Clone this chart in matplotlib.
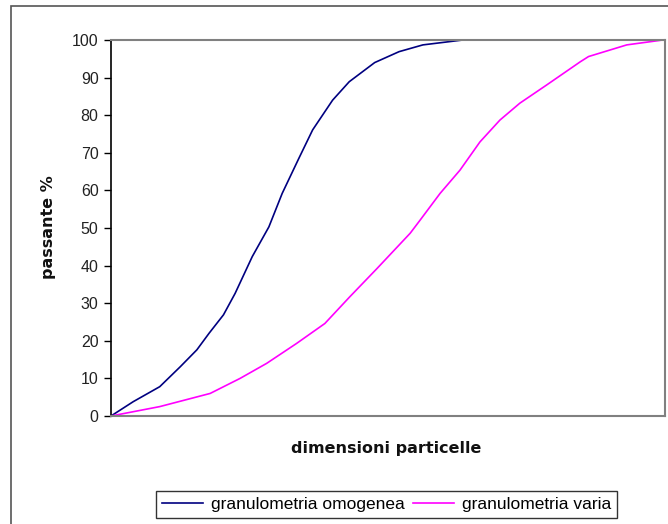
import matplotlib
matplotlib.use("Agg")
import matplotlib.pyplot as plt
from matplotlib.patches import Rectangle

plt.rcParams['font.family'] = ['Liberation Sans', 'DejaVu Sans']

# data (x in arbitrary units 0..100, no x tick labels in original)
x_omogenea = [0, 4, 8.8, 12.5, 15.5, 17.7, 20.3, 22.4, 25.5, 28.5, 30.9, 33.9, 36.4, 40, 43, 47.6, 52, 56.3, 63.5]
y_omogenea = [0, 3.8, 7.8, 13.1, 17.6, 22, 26.9, 32.6, 42.4, 50.3, 59.2, 68.5, 76.1, 84, 88.9, 94, 96.9, 98.7, 100]
x_varia = [0, 8.8, 17.9, 23.3, 28.1, 33.5, 38.6, 43.1, 48, 54, 55.8, 59.4, 63, 66.6, 70.2, 73.8, 78.6, 84.7, 86.2, 93.1, 99.6]
y_varia = [0, 2.5, 6, 10, 14, 19.3, 24.6, 31.7, 39.2, 48.6, 52.1, 59.2, 65.4, 72.9, 78.7, 83.2, 88, 94.2, 95.6, 98.7, 100]
yticks = list(range(0, 101, 10))
label_omogenea = "granulometria omogenea"
label_varia = "granulometria varia"

W, H = 668, 524
fig = plt.figure(figsize=(W / 100, H / 100), dpi=100)
fig.patch.set_facecolor('white')

# outer chart border (clipped at right/bottom)
fig.patches.append(Rectangle((11 / W, -0.05), 1.0, (H - 6) / H + 0.05, transform=fig.transFigure,
                             fill=False, edgecolor='#555555', linewidth=1.2))

ax = fig.add_axes([111 / W, (H - 416) / H, (665 - 111) / W, (416 - 40) / H])
ax.plot(x_omogenea, y_omogenea, color='#000080', linewidth=1.2, label=label_omogenea)
ax.plot(x_varia, y_varia, color='#FF00FF', linewidth=1.2, label=label_varia)

ax.set_xlim(0, 100)
ax.set_ylim(0, 100)
ax.set_yticks(yticks)
ax.set_xticks([])
ax.tick_params(axis='y', direction='out', length=5, width=1, color='black',
               labelsize=11.5, labelcolor='#222222', pad=4)
ax.spines['left'].set_color('black')
ax.spines['left'].set_linewidth(1.2)
for s in ['top', 'right', 'bottom']:
    ax.spines[s].set_color('#808080')
    ax.spines[s].set_linewidth(1.5)

fig.text(49 / W, 1 - 227 / H, "passante %", rotation=90, ha='center', va='center',
         fontsize=11.5, fontweight='bold', family='DejaVu Sans', color='#111111')
fig.text(386 / W, 1 - 448 / H, "dimensioni particelle", ha='center', va='center',
         fontsize=11.5, fontweight='bold', family='DejaVu Sans', color='#111111')

leg = fig.legend(loc='center', bbox_to_anchor=(386.5 / W, 1 - 504.5 / H), ncol=2,
                 frameon=True, fancybox=False, fontsize=12.5, handlelength=2.35,
                 handletextpad=0.45, columnspacing=0.5, borderpad=0.35)
leg.get_frame().set_edgecolor('black')
leg.get_frame().set_linewidth(1.0)

fig.savefig('out.png', dpi=100)
